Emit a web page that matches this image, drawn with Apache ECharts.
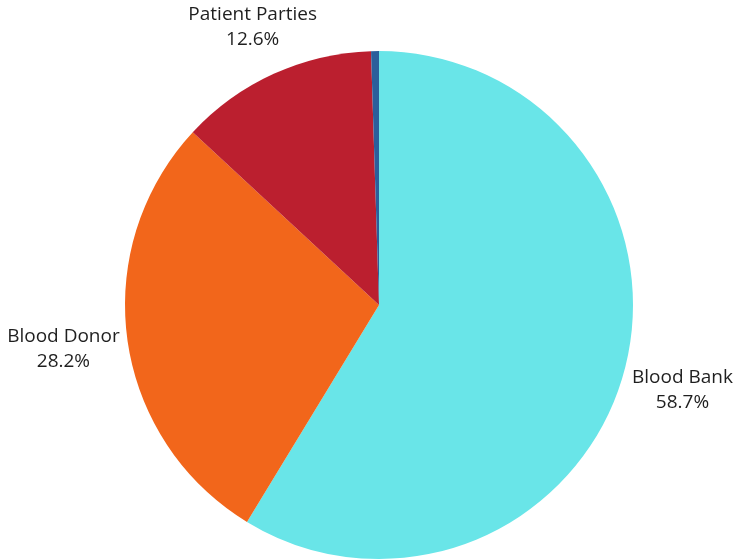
<!DOCTYPE html>
<html>
<head>
<meta charset="utf-8">
<script src="https://cdn.jsdelivr.net/npm/echarts@6/dist/echarts.min.js"></script>
<style>
  html, body { margin: 0; padding: 0; background: #ffffff; }
  #chart { width: 738px; height: 559px; }
</style>
</head>
<body>
<div id="chart"></div>
<script>
// Share of blood sources, clockwise from 12 o'clock
const categories = ['Blood Bank', 'Blood Donor', 'Patient Parties', 'Other'];
const shares = [58.7, 28.2, 12.6, 0.5];
const colors = ['#69e5e8', '#f2661b', '#bb1f2f', '#2b5f9b'];
const labelled = [true, true, true, false];

const FONT = '"Open Sans", "Noto Sans", sans-serif';
const CENTER = [379, 305];
const RADIUS = 254;
const LABEL_GAP = 6;

const pieData = categories.map((name, i) => ({
  name: name,
  value: shares[i],
  itemStyle: { color: colors[i] },
  label: { show: labelled[i] }
}));

// mid-angle of each slice (radians, clockwise from 12 o'clock)
const total = shares.reduce((a, b) => a + b, 0);
const midAngles = [];
shares.reduce((acc, v) => {
  midAngles.push(2 * Math.PI * (acc + v / 2) / total);
  return acc + v;
}, 0);

// Centre each label on its slice's mid-angle ray and push it out until the
// box corner nearest the pie sits on a circle just outside the rim.
function placeLabel(params) {
  const r = params.labelRect;
  const a = midAngles[params.dataIndex];
  const ux = Math.sin(a);
  const uy = -Math.cos(a);
  const hw = r.width / 2;
  const hh = r.height / 2;
  const p = Math.abs(ux) * hw + Math.abs(uy) * hh;
  const rim = RADIUS + LABEL_GAP;
  const d = p + Math.sqrt(Math.max(0, p * p - (hw * hw + hh * hh - rim * rim)));
  return {
    x: CENTER[0] + ux * d,
    y: CENTER[1] + uy * d,
    align: 'center',
    verticalAlign: 'middle'
  };
}

const chart = echarts.init(document.getElementById('chart'), null, { renderer: 'canvas' });

chart.setOption({
  animation: false,
  backgroundColor: '#ffffff',
  series: [
    {
      type: 'pie',
      center: CENTER,
      radius: [0, RADIUS],
      startAngle: 90,
      clockwise: true,
      silent: true,
      avoidLabelOverlap: false,
      emphasis: { disabled: true },
      labelLine: { show: false },
      label: {
        show: true,
        position: 'outside',
        formatter: p => p.name + '\n' + p.value.toFixed(1) + '%',
        color: '#1f1f1f',
        fontFamily: FONT,
        fontSize: 19,
        lineHeight: 25,
        align: 'center'
      },
      labelLayout: placeLabel,
      data: pieData
    }
  ]
});
</script>
</body>
</html>
